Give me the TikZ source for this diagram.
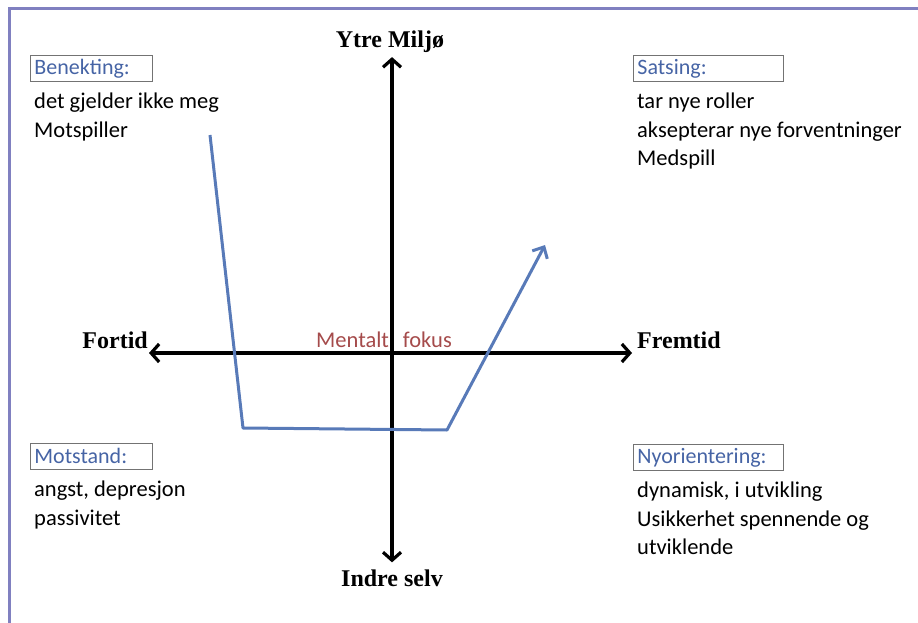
\documentclass[tikz,border=0pt]{standalone}
\usepackage{fontspec}
\setmainfont{Carlito}
\newfontfamily\axisfont{Liberation Serif}
\usetikzlibrary{arrows.meta,positioning}
\definecolor{framecol}{RGB}{128,128,192}
\definecolor{curvecol}{RGB}{88,122,184}
\definecolor{headcol}{RGB}{70,100,165}
\definecolor{fokuscol}{RGB}{165,75,75}
\tikzset{
  axislabel/.style={font=\axisfont\bfseries\fontsize{24}{26}\selectfont, inner sep=1pt},
  axisline/.style={line width=3.2pt, {Straight Barb[length=8pt,width=18pt,line width=3.2pt]}-{Straight Barb[length=8pt,width=18pt,line width=3.2pt]}},
  headbox/.style={draw=black!55, line width=0.8pt, text=headcol, anchor=north west,
    minimum height=26pt, inner xsep=4pt, inner ysep=0pt,
    font=\fontsize{22}{24}\selectfont, align=left},
  listtext/.style={anchor=north west, align=left, inner xsep=4pt, inner ysep=11pt,
    font=\fontsize{22.5}{28.5}\selectfont},
  curve/.style={curvecol, line width=3pt, line join=round,
    -{Straight Barb[length=9pt,width=17pt,line width=3pt]}}
}
\begin{document}
\begin{tikzpicture}[x=1pt,y=-1pt]
\useasboundingbox (0,0) rectangle (918,623);
% frame
\draw[framecol, line width=3pt] (9,623) -- (9,9) -- (918,9);

% axis labels
\node[axislabel] (ytre) at (390,42) {Ytre Miljø};
\node[axislabel] (indre) at (392,578) {Indre selv};
\node[axislabel, anchor=east] (fortid) at (149,340) {Fortid};
\node[axislabel, anchor=west] (fremtid) at (636,340) {Fremtid};
\node[fokuscol, font=\fontsize{22.5}{24}\selectfont] (fokus) at (384,340) {Mentalt\hspace{14pt}fokus};

% axes
\draw[axisline] ([yshift=-3pt]ytre.south -| 392,0) -- ([yshift=6pt]indre.north -| 392,0);
\draw[axisline] (fortid.east |- 0,353) -- ([xshift=-4pt]fremtid.west |- 0,353);

% quadrants
\node[headbox, text width=114pt] (benekting) at (30,55) {Benekting:};
\node[listtext] (benekting-txt) at (benekting.south west) {det gjelder ikke meg\\Motspiller};

\node[headbox, text width=142pt] (satsing) at (633,55) {Satsing:};
\node[listtext] (satsing-txt) at (satsing.south west) {tar nye roller\\aksepterar nye forventninger\\Medspill};

\node[headbox, text width=114pt] (motstand) at (30,443) {Motstand:};
\node[listtext] (motstand-txt) at (motstand.south west) {angst, depresjon\\passivitet};

\node[headbox, text width=142pt] (nyorientering) at (633,444) {Nyorientering:};
\node[listtext] (nyorientering-txt) at (nyorientering.south west) {dynamisk, i utvikling\\Usikkerhet spennende og\\utviklende};

% change curve
\coordinate (c-start) at (210,135);
\coordinate (c-low) at (243,428);
\coordinate (c-turn) at (447,430);
\coordinate (c-end) at (545,245);
\draw[curve] (c-start) -- (c-low) -- (c-turn) -- (c-end);
\end{tikzpicture}
\end{document}
